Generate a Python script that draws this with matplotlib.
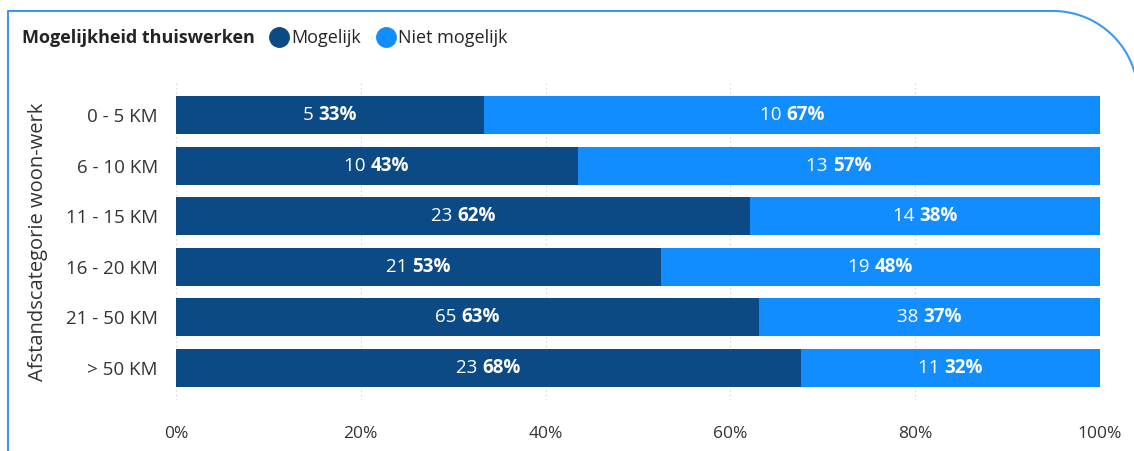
import matplotlib.pyplot as plt
from matplotlib.lines import Line2D
import numpy as np

categories = ['0 - 5 KM', '6 - 10 KM', '11 - 15 KM', '16 - 20 KM', '21 - 50 KM', '> 50 KM']
mogelijk = [5, 10, 23, 21, 65, 23]
niet_mogelijk = [10, 13, 14, 19, 38, 11]
series_names = ['Mogelijk', 'Niet mogelijk']
legend_title = 'Mogelijkheid thuiswerken'
y_title = 'Afstandscategorie woon-werk'
x_ticks = [0, 0.2, 0.4, 0.6, 0.8, 1.0]

DARK = '#0b4a85'
LIGHT = '#118dff'
TEXT = '#333333'
FRAME = '#3a98f5'

W, H = 1134, 451
plt.rcParams['font.family'] = ['Open Sans', 'DejaVu Sans']

fig = plt.figure(figsize=(W / 100, H / 100), dpi=100)
ax_top, ax_bot = 83, 400
ax = fig.add_axes([176 / W, 1 - ax_bot / H, 924 / W, (ax_bot - ax_top) / H])


def pct(n, total):
    # round half up on the exact fraction
    return (200 * n + total) // (2 * total)


totals = np.array(mogelijk) + np.array(niet_mogelijk)
share_a = np.array(mogelijk) / totals
share_b = np.array(niet_mogelijk) / totals
y = np.arange(len(categories))

ax.barh(y, share_a, height=0.75, color=DARK, zorder=2)
ax.barh(y, share_b, left=share_a, height=0.75, color=LIGHT, zorder=2)

ax.set_xlim(0, 1)
ax.set_ylim(len(categories) - 0.368, -0.632)
ax.set_xticks(x_ticks)
ax.set_xticklabels([f'{int(t * 100)}%' for t in x_ticks])
ax.set_yticks(y)
ax.set_yticklabels(categories)
ax.tick_params(axis='both', length=0, colors=TEXT)
ax.tick_params(axis='x', pad=19, labelsize=12.5)
ax.tick_params(axis='y', pad=13, labelsize=13.5)
ax.grid(axis='x', color='#c8c8c8', linestyle=(0, (1, 3)), linewidth=0.8, zorder=0)
for s in ax.spines.values():
    s.set_visible(False)
ax.set_ylabel(y_title, fontsize=14.5, color=TEXT)
ax.yaxis.set_label_coords(-0.138, 0.5)

# two-part segment labels: count regular, percentage bold
fig.canvas.draw()
renderer = fig.canvas.get_renderer()
inv = ax.transData.inverted()
for i in range(len(categories)):
    segs = [(0, share_a[i], mogelijk[i]), (share_a[i], share_b[i], niet_mogelijk[i])]
    for left, width, n in segs:
        cx = left + width / 2
        t1 = ax.text(0, 0, f'{n} ', fontsize=13.5, color='white')
        t2 = ax.text(0, 0, f'{pct(n, totals[i])}%', fontsize=13.5, color='white', fontweight='bold')
        w1 = t1.get_window_extent(renderer).width
        w2 = t2.get_window_extent(renderer).width
        px, py = ax.transData.transform((cx, y[i]))
        x1 = inv.transform((px - (w1 + w2) / 2, py))[0]
        x2 = inv.transform((px - (w1 + w2) / 2 + w1, py))[0]
        for t, xx in ((t1, x1), (t2, x2)):
            t.set_position((xx, y[i]))
            t.set_va('center')
            t.set_zorder(3)

# legend row at the top
fig.text(22 / W, 1 - 38 / H, legend_title, fontsize=13, fontweight='bold', color='#252423', va='center')
handles = [Line2D([], [], marker='o', linestyle='', markersize=14, color=c) for c in (DARK, LIGHT)]
fig.legend(handles, series_names, loc='center left', bbox_to_anchor=(270 / W, 1 - 38 / H),
           frameon=False, fontsize=13, handletextpad=0.15, columnspacing=0.9, ncol=2,
           borderaxespad=0, borderpad=0, handlelength=1.0, labelcolor='#252423')

# card border with a rounded top-right corner
r = 85
theta = np.linspace(np.pi / 2, 0, 60)
arc_x = 1053 + r * np.cos(theta)
arc_y = 11 + r - r * np.sin(theta)
px = np.concatenate([[8, 8], arc_x, [1053 + r, 1053 + r]])
py = np.concatenate([[H + 5, 11], arc_y, [11 + r, H + 5]])
fig.add_artist(Line2D(px / W, 1 - py / H, transform=fig.transFigure, color=FRAME, linewidth=1.5))

fig.savefig('out.png', dpi=100)
